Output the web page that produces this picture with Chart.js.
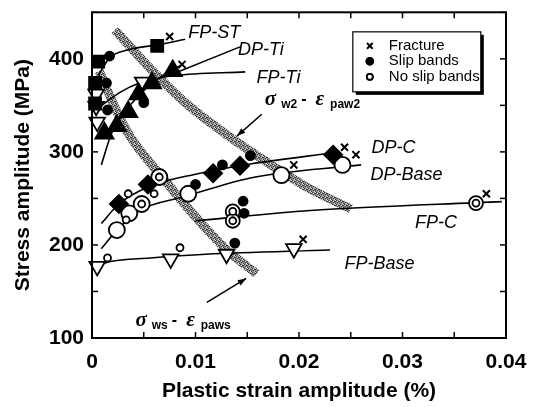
<!DOCTYPE html>
<html><head><meta charset="utf-8">
<script src="https://cdn.jsdelivr.net/npm/chart.js@4.4.0/dist/chart.umd.min.js"></script>
<style>html,body{margin:0;padding:0;background:#fff;}</style>
</head><body>
<canvas id="c" width="533" height="407"></canvas>
<script>
// ---------------- DATA (x = plastic strain amplitude %, y = stress amplitude MPa) ----------------
const xTicks = [0, 0.01, 0.02, 0.03, 0.04];
const yTicks = [100, 200, 300, 400];

// FP-ST
const fpstSquares = [[0.0006,397],[0.0003,374],[0.0003,352],[0.0063,414]];
const fpstCurve   = [[0.0006,382],[0.0017,401],[0.0036,410],[0.0063,415],[0.009,421]];
// FP-Ti
const fptiTriangles = [[0.0004,362],[0.0004,349],[0.0005,332],[0.0049,375]];
const fptiCurve     = [[0.0007,348],[0.0027,364],[0.0046,374],[0.008,382],[0.0148,386]];
// DP-Ti
const dptiTriangles = [[0.0012,320],[0.0024,328],[0.0035,343],[0.0045,362],[0.0058,374],[0.0078,387]];
const dptiCurve     = [[0.0009,286],[0.0019,320],[0.0036,349],[0.0057,373],[0.0087,394]];
// DP-C
const dpcDiamonds = [[0.0026,244],[0.0054,265],[0.0117,277],[0.0143,285],[0.0233,297]];
const dpcCurve    = [[0.0009,223],[0.0026,244],[0.0056,263],[0.01,276],[0.0153,287],[0.0233,299]];
// DP-Base
const dpbaseCircles = [[0.0024,216],[0.0036,234],[0.0048,244],[0.0093,255],[0.0183,275],[0.0242,286],[0.0065,273]];
const dpbaseCurve   = [[0.0009,196],[0.0025,217],[0.0046,237],[0.009,252],[0.0153,272],[0.026,286]];
// FP-C
const fpcRings  = [[0.0136,236],[0.0136,226],[0.0371,245]];
const fpcCurve  = [[0.01,226],[0.0211,237],[0.0396,246.5]];
// FP-Base
const fpbaseTriangles = [[0.0005,177],[0.0076,185],[0.013,190],[0.0195,196]];
const fpbaseCurve     = [[0.0,175.5],[0.0017,182],[0.0056,186],[0.011,190],[0.023,194.5]];
// Observation markers
const fracture = [[0.0075,424],[0.0087,394],[0.0244,305],[0.0255,297],[0.0195,286],[0.0381,255],[0.0204,206]];
const slipBands = [[0.0017,403],[0.0014,374],[0.0015,345],[0.005,353],[0.01,265],[0.0126,286],[0.0153,296],[0.0146,247],[0.0147,234],[0.0138,202]];
const noSlipBands = [[0.0033,227],[0.0035,255],[0.006,255],[0.0065,273],[0.0048,244],[0.0015,186],[0.0085,197],[0.0136,236],[0.0136,226],[0.0371,245]];
// Gray bands
const bandW2 = [[0.0022,431],[0.0056,390],[0.009,353],[0.0127,321],[0.0169,289],[0.0211,260],[0.025,239]];
const bandWS = [[0.0007,387],[0.0022,348],[0.0036,318],[0.007,270],[0.0097,234],[0.0129,196],[0.0159,169]];

// Curve labels: text, x, y (data units, left/middle anchor)
const curveLabels = [
  ['FP-ST', 0.0093, 428], ['DP-Ti', 0.0141, 410], ['FP-Ti', 0.0159, 379],
  ['DP-C', 0.027, 304], ['DP-Base', 0.0269, 275.5], ['FP-C', 0.0312, 223.4], ['FP-Base', 0.0244, 180]
];
// ------------------------------------------------------------------------------------------------

const P = a => a.map(p => ({x:p[0], y:p[1]}));

// stipple pattern for bands
const pc = document.createElement('canvas'); pc.width = 4; pc.height = 4;
const pg = pc.getContext('2d');
pg.fillStyle = 'rgba(120,120,120,0.85)'; pg.fillRect(0,0,4,4);
pg.fillStyle = '#333';
[[0,0],[2,1],[1,2],[3,3],[3,1]].forEach(d => pg.fillRect(d[0], d[1], 1, 1));
pg.fillStyle = '#e0e0e0';
[[3,0],[1,1],[2,3]].forEach(d => pg.fillRect(d[0], d[1], 1, 1));
const bandPattern = pg.createPattern(pc, 'repeat');

function curve(data) {
  return {type:'line', data:P(data), borderColor:'#000', borderWidth:1.6, pointRadius:0,
          cubicInterpolationMode:'monotone', fill:false, order:1};
}
function band(data) {
  return {type:'line', data:P(data), borderColor:bandPattern, borderWidth:9, pointRadius:0,
          cubicInterpolationMode:'monotone', fill:false, order:2, borderCapStyle:'butt'};
}
function marks(data, style, r, filled, rot, lw) {
  return {type:'scatter', data:P(data), pointStyle:style, pointRadius:r, pointHoverRadius:r,
          pointRotation:rot||0, backgroundColor: filled ? '#000' : '#fff', borderColor:'#000',
          borderWidth: lw || 1.8, order:0, clip:false};
}

const datasets = [
  marks(fracture, 'crossRot', 5, false, 0, 2),
  marks(slipBands, 'circle', 4.5, true),
  marks(noSlipBands, 'circle', 3.5, false, 0, 1.8),
  marks(fpstSquares, 'rect', 8.5, true),
  marks(dptiTriangles, 'triangle', 10.5, true),
  marks(fptiTriangles, 'triangle', 9, false, 180),
  marks(fpbaseTriangles, 'triangle', 9, false, 180),
  marks(dpcDiamonds, 'rectRot', 9, true),
  marks(dpbaseCircles, 'circle', 8, false),
  marks(fpcRings, 'circle', 7, false),
  curve(fpstCurve), curve(fptiCurve), curve(dptiCurve), curve(dpcCurve),
  curve(dpbaseCurve), curve(fpcCurve), curve(fpbaseCurve),
  band(bandW2), band(bandWS)
];
// inner rings must be drawn above the ring circles
datasets[2].order = -1;

const FONT = '"Liberation Sans", Arial, sans-serif';

const overlay = {
  id: 'overlay',
  afterDatasetsDraw(chart) {
    const {ctx, chartArea: a, scales: {x, y}} = chart;
    ctx.save();
    ctx.strokeStyle = '#000';
    // frame
    ctx.lineWidth = 2;
    ctx.strokeRect(a.left, a.top, a.right - a.left, a.bottom - a.top);
    // inner ticks on all four sides
    ctx.lineWidth = 1.5;
    const seg = (x1,y1,x2,y2) => { ctx.beginPath(); ctx.moveTo(x1,y1); ctx.lineTo(x2,y2); ctx.stroke(); };
    x.ticks.forEach(t => { const p = x.getPixelForValue(t.value);
      seg(p, a.bottom, p, a.bottom - 6); seg(p, a.top, p, a.top + 6); });
    y.ticks.forEach(t => { const p = y.getPixelForValue(t.value);
      seg(a.left, p, a.left + 6, p); seg(a.right, p, a.right - 6, p); });

    // curve labels
    ctx.fillStyle = '#000';
    ctx.textBaseline = 'middle'; ctx.textAlign = 'left';
    ctx.font = 'italic 18px ' + FONT;
    curveLabels.forEach(l => ctx.fillText(l[0], x.getPixelForValue(l[1]), y.getPixelForValue(l[2])));

    // sigma-epsilon labels
    function sigLabel(px, py, sub1, sub2) {
      const parts = [
        ['σ', 'italic bold 21px "Liberation Serif", serif', 0, 5],
        [sub1, 'bold 12px ' + FONT, 5, 4],
        ['-', 'bold 16px ' + FONT, 0, 9],
        ['ε', 'italic bold 21px "Liberation Serif", serif', 0, 6],
        [sub2, 'bold 12px ' + FONT, 5, 0]
      ];
      let cx = px;
      ctx.textBaseline = 'middle';
      parts.forEach(p => { ctx.font = p[1]; ctx.fillText(p[0], cx, py + p[2]); cx += ctx.measureText(p[0]).width + p[3]; });
    }
    sigLabel(x.getPixelForValue(0.0167), y.getPixelForValue(356), 'w2', 'paw2');
    sigLabel(x.getPixelForValue(0.0042), y.getPixelForValue(119), 'ws', 'paws');

    // leader lines / arrows
    function arrow(x1,y1,x2,y2,head) {
      const X1 = x.getPixelForValue(x1), Y1 = y.getPixelForValue(y1);
      const X2 = x.getPixelForValue(x2), Y2 = y.getPixelForValue(y2);
      ctx.lineWidth = 1.5; seg(X1,Y1,X2,Y2);
      if (head) {
        const ang = Math.atan2(Y2-Y1, X2-X1), L = 9, w = 0.35;
        ctx.beginPath(); ctx.moveTo(X2,Y2);
        ctx.lineTo(X2 - L*Math.cos(ang-w), Y2 - L*Math.sin(ang-w));
        ctx.lineTo(X2 - L*Math.cos(ang+w), Y2 - L*Math.sin(ang+w));
        ctx.closePath(); ctx.fill();
      }
    }
    arrow(0.0143, 412.8, 0.0081, 385, false);
    arrow(0.0164, 340.4, 0.014, 317, true);
    arrow(0.0111, 138.3, 0.0149, 164, true);

    // legend box
    const bx = x.getPixelForValue(0.0252), by = y.getPixelForValue(429);
    const bw = 128, bh = 60;
    ctx.fillStyle = '#000';
    ctx.fillRect(bx + 3, by + 3, bw, bh);
    ctx.fillStyle = '#fff';
    ctx.fillRect(bx, by, bw, bh);
    ctx.lineWidth = 1.2; ctx.strokeRect(bx, by, bw, bh);
    const entries = [['Fracture','crossRot',4,false,2],['Slip bands','circle',3.5,true,1.5],['No slip bands','circle',3,false,1.8]];
    ctx.font = '15px ' + FONT; ctx.textBaseline = 'middle';
    entries.forEach((e, i) => {
      const ey = by + 14 + i * 15.5;
      ctx.fillStyle = e[3] ? '#000' : '#fff'; ctx.strokeStyle = '#000'; ctx.lineWidth = e[4];
      Chart.helpers.drawPoint(ctx, {pointStyle:e[1], radius:e[2], rotation:0, borderWidth:e[4]}, bx + 17, ey);
      if (e[1] === 'circle') { ctx.fill(); ctx.stroke(); }
      ctx.fillStyle = '#000';
      ctx.fillText(e[0], bx + 36, ey);
    });
    ctx.restore();
  }
};

new Chart(document.getElementById('c'), {
  data: {datasets},
  options: {
    responsive: false, animation: false,
    layout: {padding: {top: 9, right: 27, left: 0, bottom: 0}},
    plugins: {legend: {display: false}, tooltip: {enabled: false}},
    scales: {
      x: {type: 'linear', min: 0, max: 0.04,
          afterFit: s => { s.height = 69; s.paddingLeft = 0; s.paddingRight = 0; },
          grid: {display: false, drawTicks: false}, border: {display: false},
          afterBuildTicks: s => { s.ticks = []; for (let i = 0; i <= 8; i++) s.ticks.push({value: i * 0.005}); },
          ticks: {autoSkip: false, maxRotation: 0, padding: 12, color: '#000',
                  font: {family: FONT, size: 21, weight: 'bold'},
                  callback: v => { const k = Math.round(v * 1000); return (k % 10 === 0) ? String(xTicks[k / 10]) : ''; }},
          title: {display: true, text: 'Plastic strain amplitude (%)', color: '#000',
                  font: {family: FONT, size: 21, weight: 'bold'}, padding: {top: 0, bottom: 3}}},
      y: {type: 'linear', min: 100, max: 450,
          afterFit: s => { s.width = 92; s.paddingTop = 0; s.paddingBottom = 0; },
          grid: {display: false, drawTicks: false}, border: {display: false},
          afterBuildTicks: s => { s.ticks = []; for (let v = 100; v <= 450; v += 50) s.ticks.push({value: v}); },
          ticks: {autoSkip: false, padding: 8, color: '#000',
                  font: {family: FONT, size: 21, weight: 'bold'},
                  callback: v => yTicks.includes(v) ? String(v) : ''},
          title: {display: true, text: 'Stress amplitude (MPa)', color: '#000',
                  font: {family: FONT, size: 21, weight: 'bold'}, padding: {top: 11, bottom: 0}}}
    }
  },
  plugins: [overlay]
});
</script>
</body></html>
